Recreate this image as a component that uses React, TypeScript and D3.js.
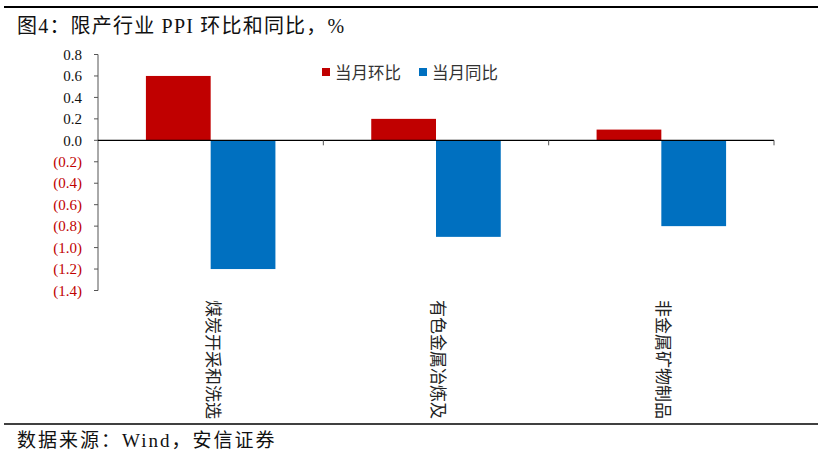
import { useEffect, useRef } from 'react';
import * as d3 from 'd3';

// chart data
const categories = ['煤炭开采和洗选', '有色金属冶炼及', '非金属矿物制品'];
const seriesNames = ['当月环比', '当月同比'];
const momValues = [0.6, 0.2, 0.1];
const yoyValues = [-1.2, -0.9, -0.8];
const yTicks = [0.8, 0.6, 0.4, 0.2, 0, -0.2, -0.4, -0.6, -0.8, -1.0, -1.2, -1.4];
const colors = ['#C00000', '#0070C0'];

const W = 818;
const H = 454;
const serif = '"Liberation Serif", "Times New Roman", "Noto Sans CJK SC", serif';
const cjk = '"Noto Sans CJK SC", "Liberation Serif", sans-serif';

const fmt = (v: number) => (v < 0 ? `(${Math.abs(v).toFixed(1)})` : v.toFixed(1));

const App: React.FC = () => {
  const svgRef = useRef<SVGSVGElement | null>(null);

  useEffect(() => {
    if (!svgRef.current) return;
    const svg = d3.select(svgRef.current);
    svg.selectAll('*').remove();

    const x0 = 98;
    const x1 = 774;
    const y = d3.scaleLinear().domain([-1.4, 0.8]).range([290.5, 54.5]);
    const xBand = d3.scaleBand().domain(categories).range([x0, x1]).paddingInner(0).paddingOuter(0);
    const inner = d3
      .scaleBand()
      .domain(seriesNames)
      .range([0, xBand.bandwidth()])
      .paddingOuter(0.74)
      .paddingInner(0);

    // frame lines
    svg.append('line').attr('x1', 4).attr('x2', W).attr('y1', 7).attr('y2', 7)
      .attr('stroke', '#000').attr('stroke-width', 2);
    svg.append('line').attr('x1', 4).attr('x2', W).attr('y1', 424).attr('y2', 424)
      .attr('stroke', '#000').attr('stroke-width', 1.5);

    // title
    svg.append('text').attr('x', 17).attr('y', 33)
      .style('font-family', serif).style('font-size', '20px').style('letter-spacing', '1.2px')
      .attr('fill', '#111')
      .text('图4：限产行业 PPI 环比和同比，%');

    // source
    svg.append('text').attr('x', 17).attr('y', 447)
      .style('font-family', serif).style('font-size', '19px').style('letter-spacing', '2px')
      .attr('fill', '#111')
      .text('数据来源：Wind，安信证券');

    // bars
    const data = categories.map((c, i) => ({ c, vals: [momValues[i], yoyValues[i]] }));
    data.forEach((d) => {
      d.vals.forEach((v, j) => {
        const bx = (xBand(d.c) || 0) + (inner(seriesNames[j]) || 0);
        svg.append('rect')
          .attr('x', bx)
          .attr('width', inner.bandwidth())
          .attr('y', y(Math.max(0, v)))
          .attr('height', Math.abs(y(v) - y(0)))
          .attr('fill', colors[j]);
      });
    });

    // y axis
    svg.append('line').attr('x1', x0).attr('x2', x0).attr('y1', y(0.8)).attr('y2', y(-1.4))
      .attr('stroke', '#555').attr('stroke-width', 1);
    yTicks.forEach((t) => {
      svg.append('line').attr('x1', x0 - 4).attr('x2', x0).attr('y1', y(t)).attr('y2', y(t))
        .attr('stroke', '#555');
      svg.append('text').attr('x', 82).attr('y', y(t)).attr('dy', '0.35em')
        .attr('text-anchor', 'end')
        .style('font-family', serif).style('font-size', '15px')
        .attr('fill', t < 0 ? '#C00000' : '#111')
        .text(fmt(t));
    });

    // x axis
    svg.append('line').attr('x1', x0).attr('x2', x1).attr('y1', y(0)).attr('y2', y(0))
      .attr('stroke', '#000').attr('stroke-width', 1.2);
    categories.forEach((c) => {
      const bx = (xBand(c) || 0) + xBand.bandwidth();
      svg.append('line').attr('x1', bx).attr('x2', bx).attr('y1', y(0)).attr('y2', y(0) + 5)
        .attr('stroke', '#555');
    });

    // category labels (rotated)
    categories.forEach((c) => {
      const cx = (xBand(c) || 0) + xBand.bandwidth() / 2 + 2;
      svg.append('text')
        .attr('transform', `translate(${cx},300) rotate(90)`)
        .attr('dy', '0.35em')
        .style('font-family', cjk).style('font-size', '17px').attr('fill', '#222')
        .text(c);
    });

    // legend
    const legendX = [322, 419];
    seriesNames.forEach((s, j) => {
      svg.append('rect').attr('x', legendX[j]).attr('y', 68).attr('width', 8).attr('height', 8)
        .attr('fill', colors[j]);
      svg.append('text').attr('x', legendX[j] + 13).attr('y', 73).attr('dy', '0.35em')
        .style('font-family', cjk).style('font-size', '16.5px').attr('fill', '#333')
        .text(s);
    });
  }, []);

  return (
    <svg
      ref={svgRef}
      width={W}
      height={H}
      style={{ position: 'absolute', left: 0, top: 0, background: '#fff' }}
    />
  );
};

export default App;
